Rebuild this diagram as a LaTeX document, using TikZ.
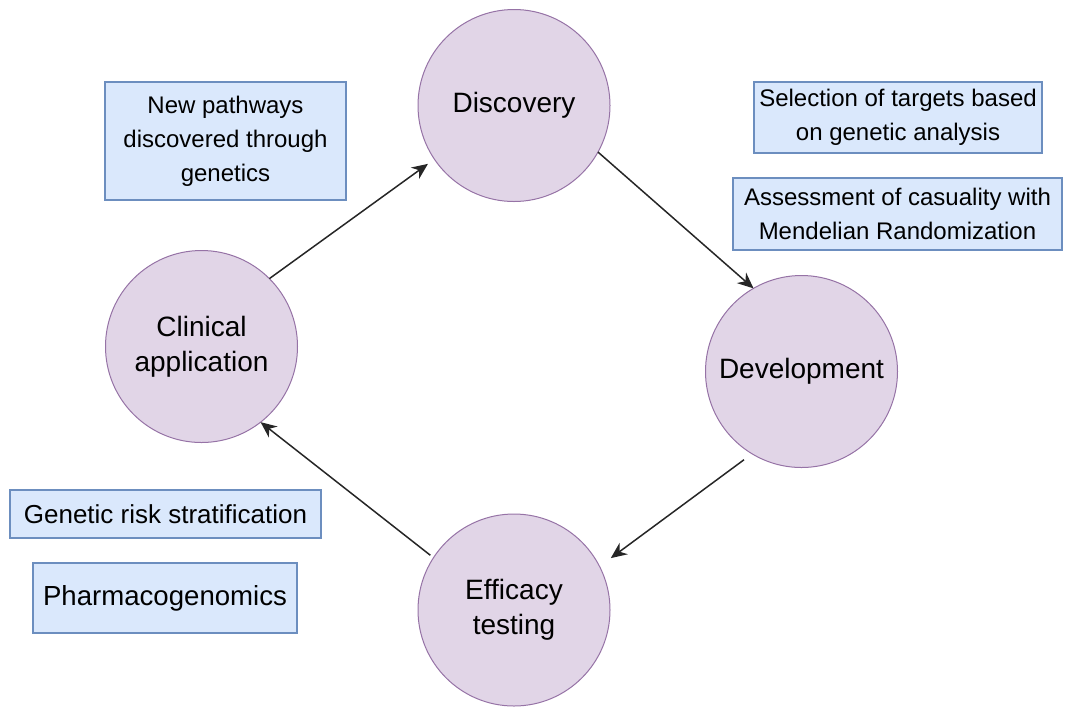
\documentclass[tikz,border=0pt]{standalone}
\usepackage{fontspec}
\setmainfont{Liberation Sans}
\usepackage{tikz}
\usetikzlibrary{arrows.meta}

\definecolor{stagefill}{HTML}{E1D5E7}
\definecolor{stageline}{HTML}{9673A6}
\definecolor{notefill}{HTML}{DAE8FC}
\definecolor{noteline}{HTML}{6C8EBF}

\begin{document}
\begin{tikzpicture}[x=0.5pt, y=-0.5pt,
  stage/.style={circle, draw=stageline, fill=stagefill, line width=0.5pt,
    minimum size=96pt, inner sep=0pt, outer sep=0pt, align=center,
    font=\fontsize{14}{17.5}\selectfont},
  note/.style={rectangle, draw=noteline, fill=notefill, line width=0.6pt,
    inner sep=0pt, outer sep=0pt, align=center,
    font=\fontsize{12}{17}\selectfont},
  flow/.style={-{Stealth[length=8pt, width=7pt]}, line width=0.75pt, black!85}]
 \useasboundingbox (0,0) rectangle (1071,709);

 \node[stage] (disc) at (514, 105.5) {Discovery};
 \node[stage] (dev) at (801.5, 371.5) {Development};
 \node[stage] (eff) at (514, 610) {Efficacy\\testing};
 \node[stage] (clin) at (201.5, 346.5) {Clinical\\application};

 \node[note, minimum width=120.5pt, minimum height=59pt] (paths) at (225.5, 141)
   {New pathways\\discovered through\\genetics};
 \node[note, minimum width=144pt, minimum height=35.5pt] (targets) at (898, 117.5)
   {Selection of targets based\\on genetic analysis};
 \node[note, minimum width=164.5pt, minimum height=36pt] (mendel) at (897.5, 214)
   {Assessment of casuality with\\Mendelian Randomization};
 \node[note, minimum width=155.5pt, minimum height=24pt,
   font=\fontsize{13}{16}\selectfont] (risk) at (165.5, 514)
   {Genetic risk stratification};
 \node[note, minimum width=132pt, minimum height=35pt,
   font=\fontsize{13.8}{16}\selectfont] (pharma) at (165, 598)
   {Pharmacogenomics};

 \draw[flow, shorten >=4pt] (clin.45) -- (disc.214);
 \draw[flow] (disc.331) -- (dev.120);
 \draw[flow, shorten <=5pt, shorten >=7pt] (dev.239) -- (eff.27);
 \draw[flow, shorten <=2pt] (eff.147) -- (clin.308);
\end{tikzpicture}
\end{document}
